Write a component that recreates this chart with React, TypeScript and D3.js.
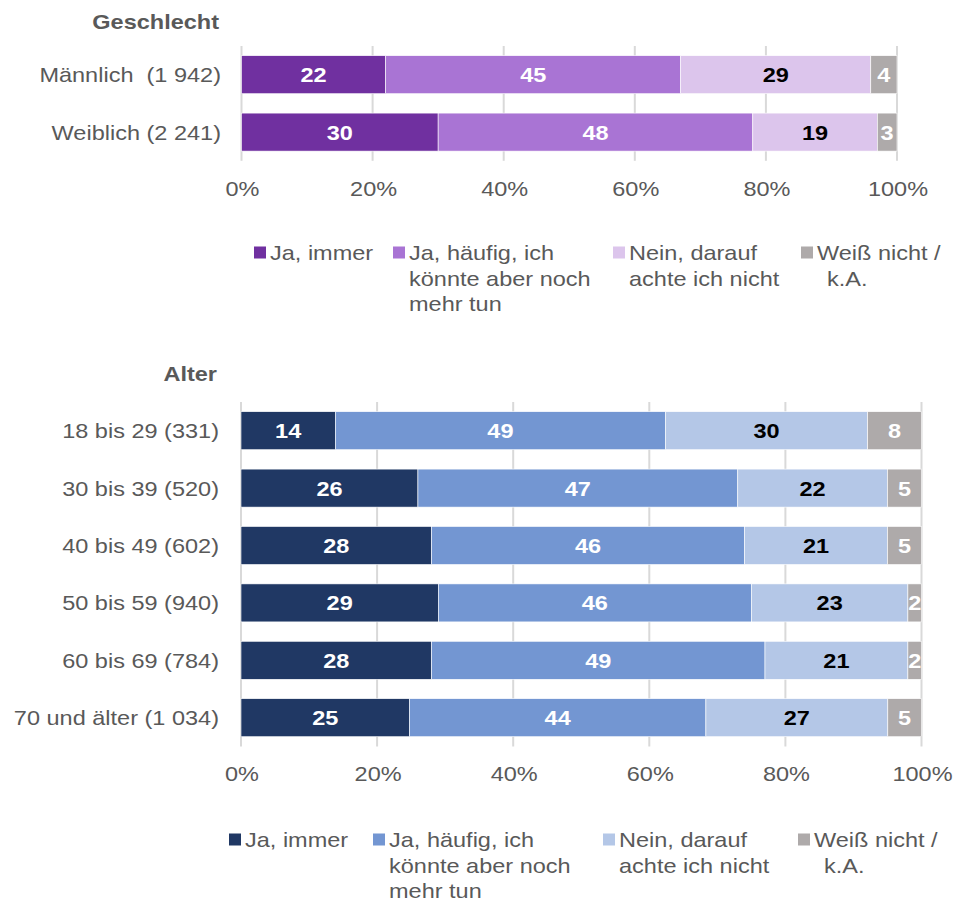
import React from "react";
import * as d3 from "d3";

// ---------- Data ----------
const seriesNames = ["Ja, immer", "Ja, häufig", "Nein", "Weiß nicht"];
const legendLabels: string[][] = [
  ["Ja, immer"],
  ["Ja, häufig, ich", "könnte aber noch", "mehr tun"],
  ["Nein, darauf", "achte ich nicht"],
  ["Weiß nicht /", "k.A."],
];

const genderCats = ["Männlich\u00A0\u00A0(1\u00A0942)", "Weiblich (2\u00A0241)"];
const genderJaImmer = [22, 30];
const genderJaHaeufig = [45, 48];
const genderNein = [29, 19];
const genderWeissNicht = [4, 3];

const ageCats = [
  "18 bis 29 (331)",
  "30 bis 39 (520)",
  "40 bis 49 (602)",
  "50 bis 59 (940)",
  "60 bis 69 (784)",
  "70 und älter (1\u00A0034)",
];
const ageJaImmer = [14, 26, 28, 29, 28, 25];
const ageJaHaeufig = [49, 47, 46, 46, 49, 44];
const ageNein = [30, 22, 21, 23, 21, 27];
const ageWeissNicht = [8, 5, 5, 2, 2, 5];

const tickValues = [0, 0.2, 0.4, 0.6, 0.8, 1];

// ---------- Styles ----------
const purpleColors = ["#7030A0", "#A974D4", "#DCC5EC", "#AEAAAA"];
const blueColors = ["#203864", "#7396D2", "#B4C7E7", "#AEAAAA"];
const valueTextColors = ["#FFFFFF", "#FFFFFF", "#000000", "#FFFFFF"];
const GREY = "#595959";
const FONT = "'Liberation Sans', Arial, sans-serif";
const SX = 1.12;

type TProps = {
  x: number;
  y: number;
  anchor?: "start" | "middle" | "end";
  size?: number;
  weight?: string;
  fill?: string;
  children: React.ReactNode;
};
const T = ({ x, y, anchor = "start", size = 21, weight = "normal", fill = GREY, children }: TProps) => (
  <text
    transform={`translate(${x},${y}) scale(${SX},1)`}
    textAnchor={anchor}
    fontFamily={FONT}
    fontSize={size}
    fontWeight={weight}
    fill={fill}
    style={{ whiteSpace: "pre" }}
  >
    {children}
  </text>
);

type PanelProps = {
  title: string;
  titleX: number;
  titleY: number;
  cats: string[];
  labelX: number;
  series: number[][];
  colors: string[];
  x0: number;
  x1: number;
  top: number;
  tickY: number;
  legendY: number;
  markerX: number[];
};

const STEP = 57.4;
const PAD = 0.338;

function Panel(p: PanelProps) {
  const x = d3.scaleLinear().domain([0, 1]).range([p.x0, p.x1]);
  const y = d3
    .scaleBand<string>()
    .domain(p.cats)
    .range([p.top, p.top + STEP * p.cats.length])
    .paddingInner(PAD)
    .paddingOuter(PAD / 2);

  const rows = p.cats.map((c, i) => {
    const r: any = { cat: c };
    seriesNames.forEach((s, k) => (r[s] = p.series[k][i]));
    return r;
  });
  const stacked = d3.stack<any>().keys(seriesNames).offset(d3.stackOffsetExpand)(rows);
  const [r0, r1] = y.range();

  return (
    <g>
      <T x={p.titleX} y={p.titleY} anchor="end" size={21} weight="bold">
        {p.title}
      </T>
      {tickValues.map((t) => (
        <line key={t} x1={x(t)} x2={x(t)} y1={r0} y2={r1} stroke="#D9D9D9" strokeWidth={2} />
      ))}
      {stacked.map((layer, k) => (
        <g key={layer.key}>
          {layer.map((d, i) => {
            const xa = x(d[0]);
            const xb = x(d[1]);
            const yy = y(p.cats[i])!;
            const h = y.bandwidth();
            return (
              <g key={i}>
                <rect x={xa} y={yy} width={xb - xa} height={h} fill={p.colors[k]} stroke="#FFFFFF" strokeWidth={0.6} />
                <T x={(xa + xb) / 2} y={yy + h / 2 + 7.5} anchor="middle" weight="bold" fill={valueTextColors[k]}>
                  {p.series[k][i]}
                </T>
              </g>
            );
          })}
        </g>
      ))}
      {p.cats.map((c) => (
        <T key={c} x={p.labelX} y={y(c)! + y.bandwidth() / 2 + 7.5} anchor="end">
          {c}
        </T>
      ))}
      {tickValues.map((t) => (
        <T key={t} x={x(t) + 1} y={p.tickY} anchor="middle">
          {d3.format(".0%")(t)}
        </T>
      ))}
      {legendLabels.map((lines, k) => (
        <g key={k}>
          <rect x={p.markerX[k]} y={p.legendY - 13.5} width={12} height={12} fill={p.colors[k]} />
          {lines.map((ln, j) => (
            <T key={j} x={p.markerX[k] + 16 + (k === 3 && j > 0 ? 10 : 0)} y={p.legendY + j * 25.5}>
              {ln}
            </T>
          ))}
        </g>
      ))}
    </g>
  );
}

export default function App() {
  return (
    <svg
      width={957}
      height={904}
      style={{ position: "absolute", left: 0, top: 0, background: "#FFFFFF" }}
    >
      <rect width={957} height={904} fill="#FFFFFF" />
      <Panel
        title="Geschlecht"
        titleX={219}
        titleY={29}
        cats={genderCats}
        labelX={221}
        series={[genderJaImmer, genderJaHaeufig, genderNein, genderWeissNicht]}
        colors={purpleColors}
        x0={241.5}
        x1={897}
        top={46}
        tickY={196}
        legendY={260}
        markerX={[254, 393, 613, 801]}
      />
      <Panel
        title="Alter"
        titleX={217}
        titleY={381}
        cats={ageCats}
        labelX={219}
        series={[ageJaImmer, ageJaHaeufig, ageNein, ageWeissNicht]}
        colors={blueColors}
        x0={241}
        x1={921.5}
        top={402}
        tickY={781}
        legendY={847}
        markerX={[229, 373, 603, 798]}
      />
    </svg>
  );
}
